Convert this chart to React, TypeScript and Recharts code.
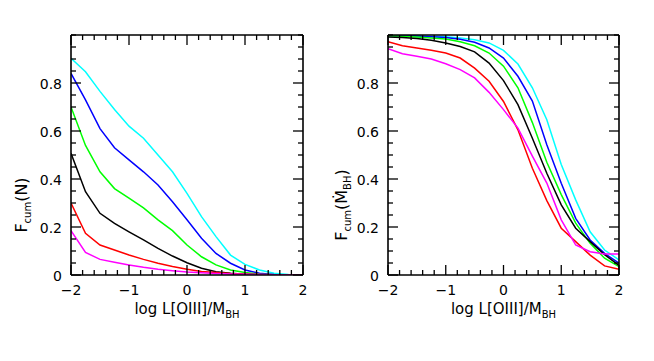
import { LineChart, Line, XAxis, YAxis } from 'recharts';

const xValues = [-2, -1.75, -1.5, -1.25, -1, -0.75, -0.5, -0.25, 0, 0.25, 0.5, 0.75, 1, 1.25, 1.5, 1.75, 2];

const xTickValues = [-2, -1.8, -1.6, -1.4, -1.2, -1, -0.8, -0.6, -0.4, -0.2, 0, 0.2, 0.4, 0.6, 0.8, 1, 1.2, 1.4, 1.6, 1.8, 2];
const xTickLabels = [-2, -1, 0, 1, 2];
const yTickValues = [0, 0.05, 0.1, 0.15, 0.2, 0.25, 0.3, 0.35, 0.4, 0.45, 0.5, 0.55, 0.6, 0.65, 0.7, 0.75, 0.8, 0.85, 0.9, 0.95, 1];
const yTickLabels = [0, 0.2, 0.4, 0.6, 0.8];

// left panel: F_cum(N)
const leftCyan = [0.903, 0.847, 0.765, 0.69, 0.62, 0.57, 0.5, 0.43, 0.34, 0.243, 0.16, 0.083, 0.044, 0.021, 0.007, 0.002, 0];
const leftBlue = [0.84, 0.73, 0.61, 0.53, 0.48, 0.43, 0.375, 0.305, 0.23, 0.153, 0.09, 0.049, 0.021, 0.007, 0.002, 0, 0];
const leftGreen = [0.7, 0.54, 0.43, 0.36, 0.32, 0.28, 0.23, 0.185, 0.125, 0.076, 0.042, 0.021, 0.01, 0.003, 0.001, 0, 0];
const leftBlack = [0.507, 0.347, 0.257, 0.215, 0.18, 0.146, 0.111, 0.079, 0.051, 0.028, 0.014, 0.007, 0.003, 0.001, 0, 0, 0];
const leftRed = [0.3, 0.174, 0.125, 0.104, 0.083, 0.065, 0.049, 0.035, 0.024, 0.015, 0.01, 0.006, 0.004, 0.002, 0.001, 0, 0];
const leftMagenta = [0.185, 0.094, 0.065, 0.053, 0.042, 0.032, 0.024, 0.018, 0.0125, 0.009, 0.006, 0.004, 0.003, 0.002, 0.001, 0.0005, 0];

// right panel: F_cum(Mdot_BH)
const rightCyan = [0.998, 0.997, 0.996, 0.995, 0.993, 0.988, 0.98, 0.967, 0.936, 0.879, 0.78, 0.647, 0.46, 0.313, 0.18, 0.104, 0.063];
const rightBlue = [1.0, 0.998, 0.996, 0.993, 0.99, 0.982, 0.97, 0.946, 0.904, 0.828, 0.725, 0.543, 0.382, 0.236, 0.146, 0.09, 0.049];
const rightGreen = [0.997, 0.995, 0.992, 0.988, 0.983, 0.972, 0.955, 0.925, 0.87, 0.78, 0.635, 0.47, 0.335, 0.216, 0.132, 0.07, 0.035];
const rightBlack = [0.992, 0.99, 0.985, 0.978, 0.967, 0.952, 0.93, 0.883, 0.81, 0.71, 0.57, 0.424, 0.292, 0.195, 0.139, 0.085, 0.04];
const rightRed = [0.972, 0.955, 0.946, 0.936, 0.925, 0.904, 0.862, 0.807, 0.723, 0.605, 0.445, 0.31, 0.195, 0.139, 0.083, 0.038, 0.024];
const rightMagenta = [0.943, 0.922, 0.911, 0.9, 0.88, 0.856, 0.821, 0.761, 0.689, 0.612, 0.495, 0.383, 0.23, 0.125, 0.097, 0.088, 0.088];

const font = '"DejaVu Sans", sans-serif';
const frame = { stroke: '#000', strokeWidth: 1.6 };

type Series = { key: string; color: string; values: number[] };

const leftSeries: Series[] = [
  { key: 'cyan', color: '#00ffff', values: leftCyan },
  { key: 'blue', color: '#0000ff', values: leftBlue },
  { key: 'green', color: '#00ff00', values: leftGreen },
  { key: 'black', color: '#000000', values: leftBlack },
  { key: 'red', color: '#ff0000', values: leftRed },
  { key: 'magenta', color: '#ff00ff', values: leftMagenta },
];

const rightSeries: Series[] = [
  { key: 'cyan', color: '#00ffff', values: rightCyan },
  { key: 'blue', color: '#0000ff', values: rightBlue },
  { key: 'green', color: '#00ff00', values: rightGreen },
  { key: 'black', color: '#000000', values: rightBlack },
  { key: 'red', color: '#ff0000', values: rightRed },
  { key: 'magenta', color: '#ff00ff', values: rightMagenta },
];

const inList = (v: number, list: number[]) => list.some((t) => Math.abs(t - v) < 1e-6);
const fmt = (v: number) => (v < 0 ? '\u2212' + Math.abs(v) : String(v));

const BottomTick = (props: any) => {
  const { x, y, payload } = props;
  const major = inList(payload.value, xTickLabels);
  return (
    <g>
      <line x1={x} x2={x} y1={y} y2={y - (major ? 10 : 5)} stroke="#000" strokeWidth={1.3} />
      {major && (
        <text x={x} y={y + 20} textAnchor="middle" fontSize={14} fontFamily={font} fill="#000">
          {fmt(payload.value)}
        </text>
      )}
    </g>
  );
};

const TopTick = (props: any) => {
  const { x, y, payload } = props;
  const major = inList(payload.value, xTickLabels);
  return <line x1={x} x2={x} y1={y} y2={y + (major ? 10 : 5)} stroke="#000" strokeWidth={1.3} />;
};

const LeftTick = (props: any) => {
  const { x, y, payload } = props;
  const major = inList(payload.value, yTickLabels);
  return (
    <g>
      <line x1={x} x2={x + (major ? 10 : 5)} y1={y} y2={y} stroke="#000" strokeWidth={1.3} />
      {major && (
        <text x={x - 9} y={y + 1} dy="0.36em" textAnchor="end" fontSize={14} fontFamily={font} fill="#000">
          {fmt(payload.value)}
        </text>
      )}
    </g>
  );
};

const RightTick = (props: any) => {
  const { x, y, payload } = props;
  const major = inList(payload.value, yTickLabels);
  return <line x1={x} x2={x - (major ? 10 : 5)} y1={y} y2={y} stroke="#000" strokeWidth={1.3} />;
};

const xTitle = (props: any) => {
  const { x, y, width } = props.viewBox;
  return (
    <text x={x + width / 2} y={y + 39} textAnchor="middle" fontSize={15} fontFamily={font} fill="#000">
      log L[OIII]/M<tspan fontSize={10} dy={4}>BH</tspan>
    </text>
  );
};

const leftYTitle = (props: any) => {
  const { x, y, height } = props.viewBox;
  const cx = x + 27;
  const cy = y + height / 2 + 50;
  return (
    <text x={cx} y={cy} transform={`rotate(-90 ${cx} ${cy})`} textAnchor="middle" fontSize={16} fontFamily={font} fill="#000">
      F<tspan fontSize={10} dy={4}>cum</tspan>
      <tspan dy={-4}>(N)</tspan>
    </text>
  );
};

const rightYTitle = (props: any) => {
  const { x, y, height } = props.viewBox;
  const cx = x + 27;
  const cy = y + height / 2 + 50;
  return (
    <text x={cx} y={cy} transform={`rotate(-90 ${cx} ${cy})`} textAnchor="middle" fontSize={16} fontFamily={font} fill="#000">
      F<tspan fontSize={10} dy={4}>cum</tspan>
      <tspan dy={-4}>({'\u1E40'}</tspan>
      <tspan fontSize={10} dy={4}>BH</tspan>
      <tspan dy={-4}>)</tspan>
    </text>
  );
};

function Panel({ series, width, yAxisWidth, right, yTitle }: {
  series: Series[];
  width: number;
  yAxisWidth: number;
  right: number;
  yTitle: (props: any) => any;
}) {
  const data = xValues.map((x, i) => {
    const row: Record<string, number> = { x };
    series.forEach((s) => {
      row[s.key] = s.values[i];
    });
    return row;
  });

  return (
    <LineChart width={width} height={361} data={data} margin={{ top: 34, right, bottom: 0, left: 0 }}>
      <XAxis
        xAxisId="b"
        dataKey="x"
        type="number"
        domain={[-2, 2]}
        allowDataOverflow
        ticks={xTickValues}
        interval={0}
        tick={<BottomTick />}
        tickSize={0}
        tickMargin={0}
        tickLine={false}
        axisLine={frame}
        height={86}
        label={xTitle}
      />
      <XAxis
        xAxisId="t"
        orientation="top"
        dataKey="x"
        type="number"
        domain={[-2, 2]}
        allowDataOverflow
        ticks={xTickValues}
        interval={0}
        tick={<TopTick />}
        tickSize={0}
        tickMargin={0}
        tickLine={false}
        axisLine={frame}
        height={1}
      />
      <YAxis
        yAxisId="l"
        type="number"
        domain={[0, 1]}
        allowDataOverflow
        ticks={yTickValues}
        interval={0}
        tick={<LeftTick />}
        tickSize={0}
        tickMargin={0}
        tickLine={false}
        axisLine={frame}
        width={yAxisWidth}
        label={yTitle}
      />
      <YAxis
        yAxisId="r"
        orientation="right"
        type="number"
        domain={[0, 1]}
        allowDataOverflow
        ticks={yTickValues}
        interval={0}
        tick={<RightTick />}
        tickSize={0}
        tickMargin={0}
        tickLine={false}
        axisLine={frame}
        width={1}
      />
      {series.map((s) => (
        <Line
          key={s.key}
          xAxisId="b"
          yAxisId="l"
          type="linear"
          dataKey={s.key}
          stroke={s.color}
          strokeWidth={1.5}
          dot={false}
          isAnimationActive={false}
        />
      ))}
      {/* invisible copy so the top and right frame axes are in use */}
      <Line
        xAxisId="t"
        yAxisId="r"
        type="linear"
        dataKey={series[0].key}
        stroke="none"
        dot={false}
        activeDot={false}
        legendType="none"
        isAnimationActive={false}
      />
    </LineChart>
  );
}

export default function App() {
  return (
    <div style={{ position: 'absolute', left: 0, top: 0, width: 654, height: 361, background: '#fff' }}>
      <div style={{ position: 'absolute', left: 0, top: 0 }}>
        <Panel series={leftSeries} width={320} yAxisWidth={71} right={16} yTitle={leftYTitle} />
      </div>
      <div style={{ position: 'absolute', left: 320, top: 0 }}>
        <Panel series={rightSeries} width={334} yAxisWidth={68} right={34} yTitle={rightYTitle} />
      </div>
    </div>
  );
}
